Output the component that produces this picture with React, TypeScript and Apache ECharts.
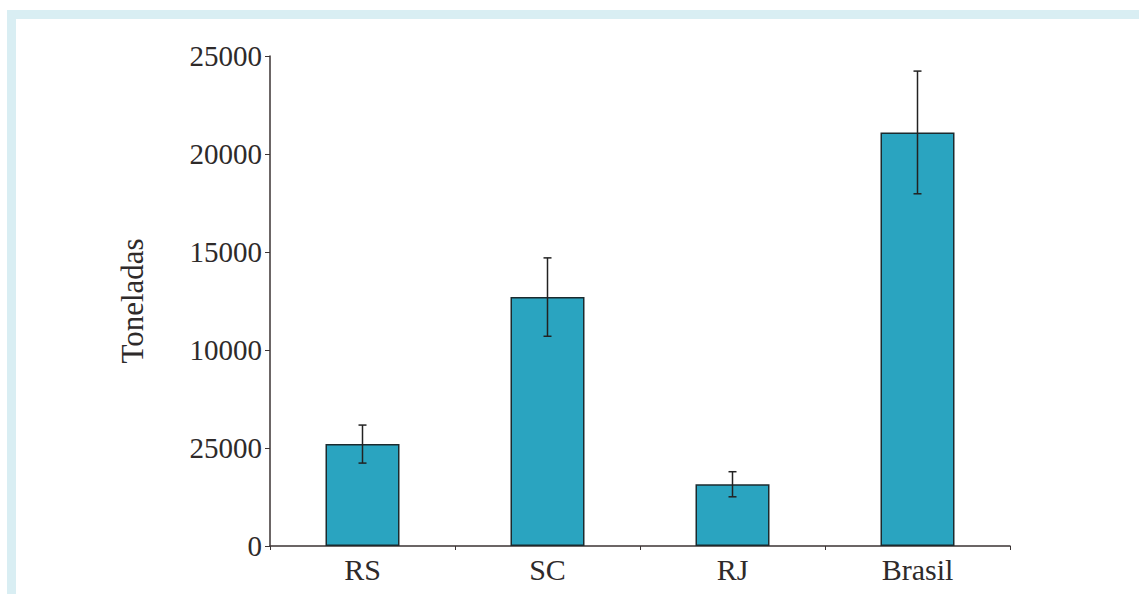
import React, { useEffect, useRef } from "react";
import * as echarts from "echarts";

const categories = ["RS", "SC", "RJ", "Brasil"];
const means = [5200, 12700, 3150, 21100];
const errors = [970, 2000, 640, 3130];
const yTickLabels = ["0", "25000", "10000", "15000", "20000", "25000"];
const yAxisName = "Toneladas";

export default function App() {
  const ref = useRef<HTMLDivElement>(null);
  useEffect(() => {
    if (!ref.current) return;
    const chart = echarts.init(ref.current, null, { renderer: "svg" });
    const font = "'Liberation Serif', 'Times New Roman', serif";
    const errData = means.map((m, i) => [i, m - errors[i], m + errors[i]]);
    chart.setOption({
      animation: false,
      backgroundColor: "#ffffff",
      graphic: [
        { type: "rect", shape: { x: 7, y: 10, width: 1132, height: 9 }, style: { fill: "#d9eef3" }, silent: true },
        { type: "rect", shape: { x: 7, y: 10, width: 9, height: 584 }, style: { fill: "#d9eef3" }, silent: true },
      ],
      grid: { left: 270, right: 129, top: 56, bottom: 48, containLabel: false },
      xAxis: {
        type: "category",
        data: categories,
        boundaryGap: true,
        axisLine: { lineStyle: { color: "#3b3333", width: 1.5 } },
        axisTick: { show: true, length: 4, lineStyle: { color: "#3b3333" } },
        axisLabel: { color: "#2e2a2a", fontFamily: font, fontSize: 30, margin: 8 },
      },
      yAxis: {
        type: "value",
        min: 0,
        max: 25000,
        interval: 5000,
        name: yAxisName,
        nameLocation: "middle",
        nameGap: 122,
        nameRotate: 90,
        nameTextStyle: { color: "#2e2a2a", fontFamily: font, fontSize: 31 },
        splitLine: { show: false },
        axisLine: { show: true, lineStyle: { color: "#3b3333", width: 1.5 } },
        axisTick: { show: true, length: 5, lineStyle: { color: "#3b3333" } },
        axisLabel: {
          color: "#2e2a2a",
          fontFamily: font,
          fontSize: 29,
          margin: 8,
          formatter: (v: number) => yTickLabels[Math.round(v / 5000)] ?? String(v),
        },
      },
      series: [
        {
          type: "bar",
          data: means,
          barWidth: "40%",
          itemStyle: { color: "#2aa4c0", borderColor: "#1b2a2e", borderWidth: 1.5 },
        },
        {
          type: "custom",
          data: errData,
          z: 10,
          renderItem: (params: any, api: any) => {
            const x = api.value(0);
            const lo = api.coord([x, api.value(1)]);
            const hi = api.coord([x, api.value(2)]);
            const cap = 4;
            const style = { stroke: "#222222", lineWidth: 1.5 };
            return {
              type: "group",
              children: [
                { type: "line", shape: { x1: lo[0], y1: lo[1], x2: hi[0], y2: hi[1] }, style },
                { type: "line", shape: { x1: hi[0] - cap, y1: hi[1], x2: hi[0] + cap, y2: hi[1] }, style },
                { type: "line", shape: { x1: lo[0] - cap, y1: lo[1], x2: lo[0] + cap, y2: lo[1] }, style },
              ],
            };
          },
        },
      ],
    });
    return () => chart.dispose();
  }, []);
  return <div ref={ref} style={{ position: "absolute", left: 0, top: 0, width: 1139, height: 594 }} />;
}
